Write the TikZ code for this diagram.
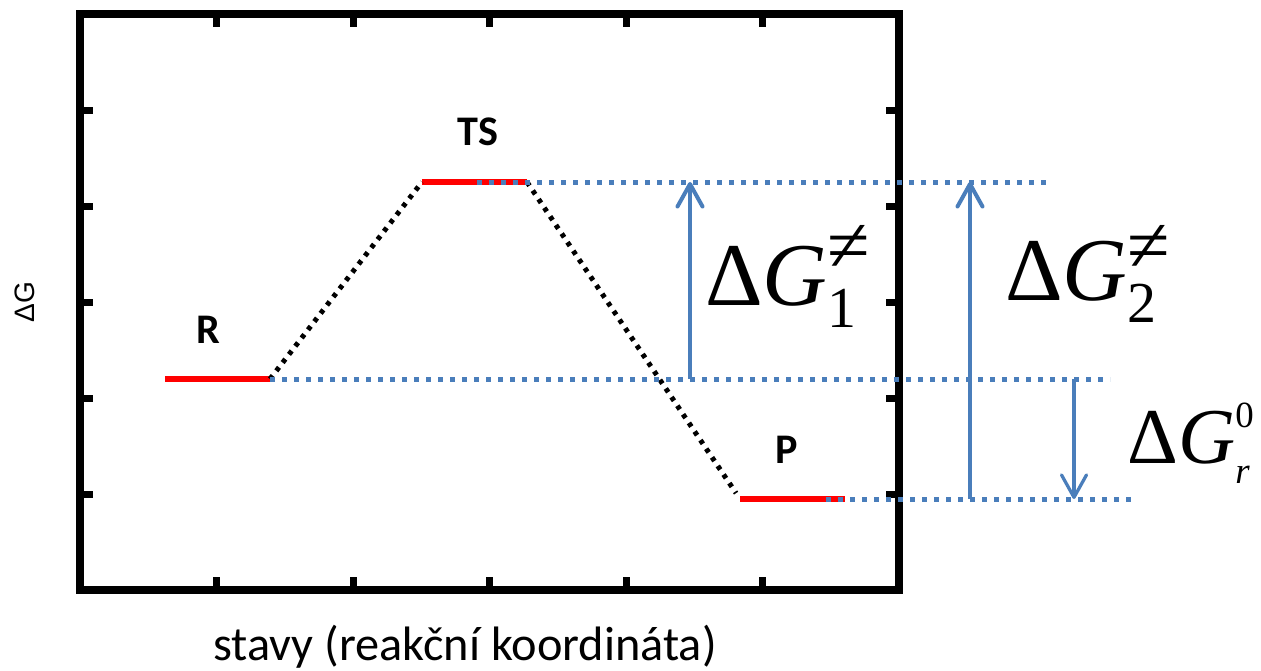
\documentclass[tikz,border=0pt]{standalone}
\usepackage{fontspec}
\setmainfont{Carlito}
\newfontfamily\arialfont{Liberation Sans}
\newfontfamily\mathserif{Liberation Serif}
\usepackage{tikz}
\usetikzlibrary{arrows.meta}
\definecolor{levelblue}{RGB}{74,126,187}

\begin{document}
\begin{tikzpicture}[x=0.02cm, y=-0.02cm,
    box/.style={line width=0.16cm},
    tickmark/.style={line width=0.14cm},
    levelline/.style={red, line width=0.12cm},
    route/.style={black, line width=0.1cm, dash pattern=on 2.5pt off 3.4pt},
    guide/.style={levelblue, line width=0.1cm, dash pattern=on 2.85pt off 3.98pt},
    gaparrow/.style={levelblue, line width=0.08cm,
        -{Straight Barb[length=0.45cm, width=0.5cm, line cap=round, line join=round]}},
    species/.style={font=\fontsize{24}{28}\selectfont\bfseries, inner sep=0pt, anchor=base},
    glabel/.style={font=\mathserif\fontsize{51}{60}\selectfont, inner sep=0pt, anchor=base west}]

    \useasboundingbox (0,0) rectangle (1261,670);

    % ================= Frame =================
    \draw[box] (80,14) rectangle (899,590);
    \foreach \x in {216.5,353,489.5,626,762.5} {
        \draw[tickmark] (\x,14) -- (\x,27);
        \draw[tickmark] (\x,590) -- (\x,577);
    }
    \foreach \y in {110,206,302,398,494} {
        \draw[tickmark] (80,\y) -- (93,\y);
        \draw[tickmark] (899,\y) -- (886,\y);
    }

    % ================= Levels =================
    \coordinate (R1) at (165,379);
    \coordinate (R2) at (270,379);
    \coordinate (TS1) at (422,182);
    \coordinate (TS2) at (527,182);
    \coordinate (P1) at (740,499);
    \coordinate (P2) at (845,499);

    \draw[levelline] (R1) -- (R2);
    \draw[levelline] (TS1) -- (TS2);
    \draw[levelline] (P1) -- (P2);

    % Reaction path
    \draw[route] (R2) -- (TS1);
    \draw[route, shorten >=4pt] (TS2) -- (P1);

    % ================= Guide lines =================
    \coordinate (TSg) at (477,182);
    \coordinate (TSe) at (1052,182);
    \coordinate (Re) at (1110,379);
    \coordinate (Pg) at (826,499);
    \coordinate (Pe) at (1135,499);

    \draw[guide] (TSg) -- (TSe);
    \draw[guide] (R2) -- (Re);
    \draw[guide] (Pg) -- (Pe);

    % ================= Energy gaps =================
    \coordinate (a1b) at (690,379);
    \coordinate (a1t) at (690,182);
    \coordinate (a2b) at (970,499);
    \coordinate (a2t) at (970,182);
    \coordinate (arb) at (1074,379);
    \coordinate (art) at (1074,499);

    \draw[gaparrow] (a1b) -- (a1t);
    \draw[gaparrow] (a2b) -- (a2t);
    \draw[gaparrow, line width=0.065cm] (arb) -- (art);

    \node[glabel] (dg1) at (705,305) {Δ\textit{G}\rlap{\raisebox{0.68cm}{\fontsize{44}{50}\selectfont ≠}}\raisebox{-0.44cm}{\fontsize{33}{40}\selectfont 1}};
    \node[glabel] (dg2) at (1005,300) {Δ\textit{G}\rlap{\raisebox{0.58cm}{\fontsize{44}{50}\selectfont ≠}}\raisebox{-0.44cm}{\fontsize{33}{40}\selectfont 2}};
    \node[glabel, font=\mathserif\fontsize{45}{52}\selectfont] (dgr) at (1127,463) {Δ\textit{G}\rlap{\raisebox{0.72cm}{\fontsize{21}{25}\selectfont 0}}\raisebox{-0.4cm}{\fontsize{21}{25}\selectfont\itshape r}};

    % ================= Labels =================
    \node[species] (lr) at (208,343) {R};
    \node[species] (lts) at (478,145) {TS};
    \node[species] (lp) at (787,463) {P};

    \node[font=\fontsize{27.5}{32}\selectfont, anchor=base, inner sep=0pt] (xlab) at (465,660) {stavy (reakční koordináta)};
    \node[font=\arialfont\fontsize{16}{19}\selectfont, rotate=90, inner sep=0pt] (ylab) at (25,302) {ΔG};

\end{tikzpicture}
\end{document}
